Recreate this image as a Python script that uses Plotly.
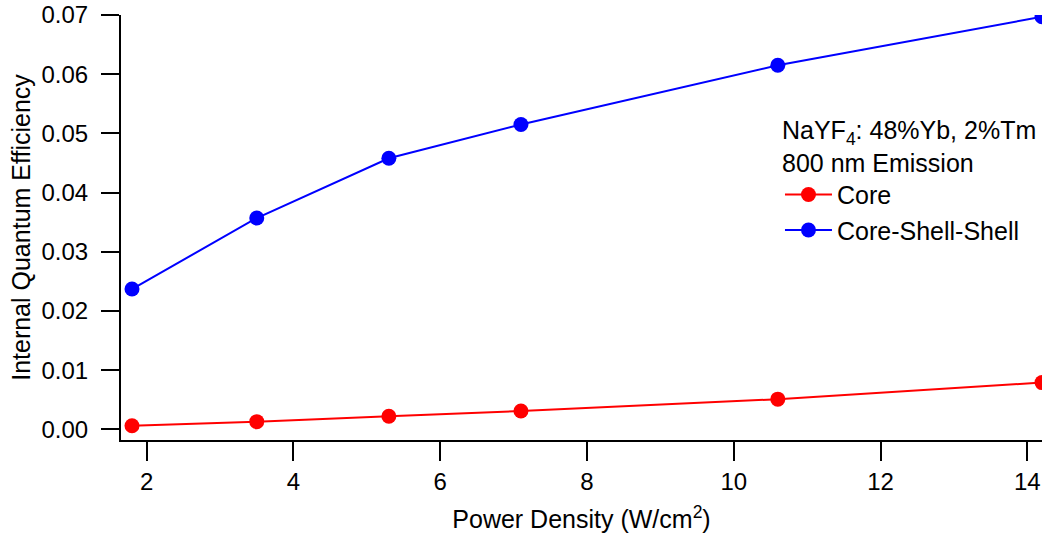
import plotly.graph_objects as go

power_density = [1.8, 3.5, 5.3, 7.1, 10.6, 14.2]
core_iqe = [0.0006, 0.0013, 0.0022, 0.0031, 0.0051, 0.0079]
css_iqe = [0.0237, 0.0357, 0.0458, 0.0515, 0.0615, 0.0697]

x_ticks = [2, 4, 6, 8, 10, 12, 14]
y_ticks = [0.00, 0.01, 0.02, 0.03, 0.04, 0.05, 0.06, 0.07]

FONT = "Arial, Liberation Sans, sans-serif"

fig = go.Figure()
fig.add_trace(go.Scatter(
    x=power_density, y=core_iqe, mode="lines+markers", name="Core",
    line=dict(color="#FF0000", width=2),
    marker=dict(color="#FF0000", size=15),
))
fig.add_trace(go.Scatter(
    x=power_density, y=css_iqe, mode="lines+markers", name="Core-Shell-Shell",
    line=dict(color="#0000FF", width=2),
    marker=dict(color="#0000FF", size=15),
))

fig.update_layout(
    width=1053, height=539,
    margin=dict(l=121, r=11, t=15, b=99, pad=0, autoexpand=False),
    paper_bgcolor="white", plot_bgcolor="white",
    font=dict(family=FONT, size=25, color="black"),
    showlegend=True,
    legend=dict(
        x=0.7155, y=0.784, xanchor="left", yanchor="top",
        bgcolor="rgba(0,0,0,0)",
        font=dict(size=25, color="black"),
        itemwidth=47,
        title=dict(text="NaYF<sub>4</sub>: 48%Yb, 2%Tm<br>800 nm Emission",
                   font=dict(size=25, color="black"), side="top"),
        tracegroupgap=0,
    ),
    xaxis=dict(
        range=[1.65, 14.2], tickmode="array", tickvals=x_ticks,
        ticktext=[str(v) for v in x_ticks],
        showgrid=False, zeroline=False, automargin=False,
        showline=True, linecolor="black", linewidth=2, mirror=False,
        ticks="outside", ticklen=19, tickwidth=2, tickcolor="black",
        tickfont=dict(size=24),
        title=dict(text="Power Density (W/cm<sup>2</sup>)", font=dict(size=25), standoff=17),
    ),
    yaxis=dict(
        range=[-0.0018, 0.07], tickmode="array", tickvals=y_ticks,
        ticktext=[f"{v:.2f}" for v in y_ticks],
        showgrid=False, zeroline=False, automargin=False,
        showline=True, linecolor="black", linewidth=2, mirror=False,
        ticks="outside", ticklen=18, tickwidth=2, tickcolor="black",
        ticklabelstandoff=8,
        tickfont=dict(size=24),
        title=dict(text="Internal Quantum Efficiency", font=dict(size=25), standoff=4),
    ),
)

fig.write_html("out.html")
